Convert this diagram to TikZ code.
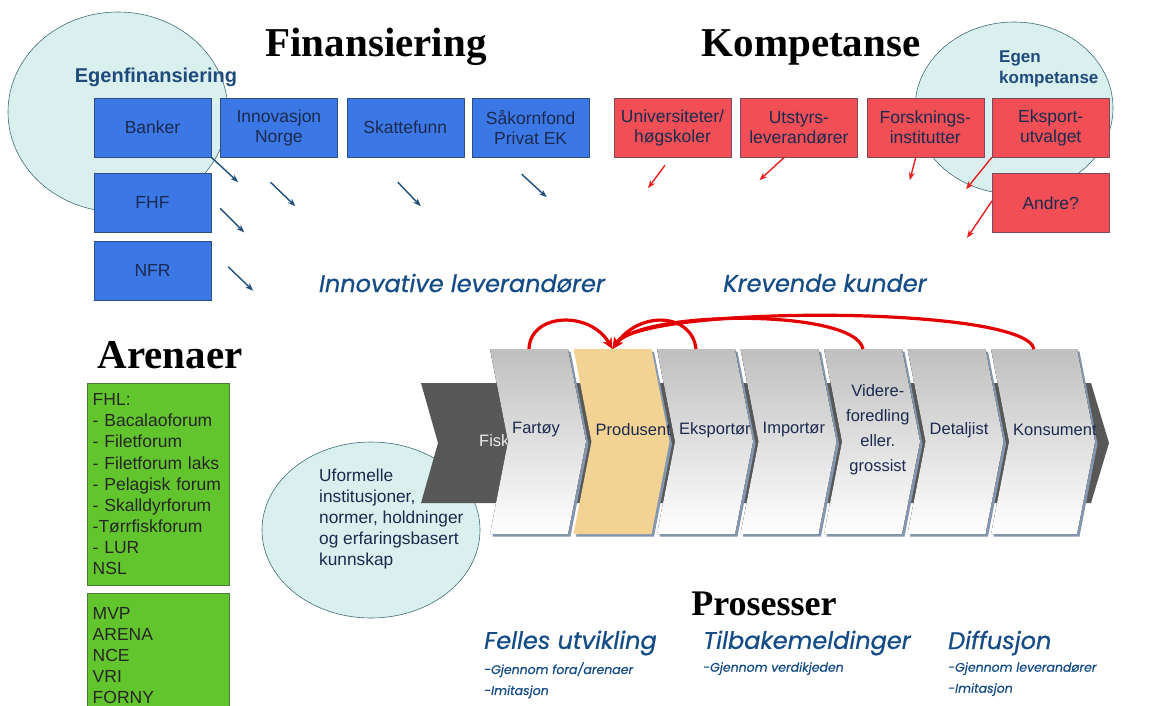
\documentclass[tikz,border=0pt]{standalone}
\usepackage{fontspec}
\setmainfont{Liberation Sans}
\newfontfamily\tittelfont{Liberation Serif}
\newfontfamily\gotfont[ItalicFeatures={FakeBold=0.7}]{Poppins}
\usetikzlibrary{arrows.meta, positioning, calc}

\definecolor{finbla}{HTML}{3B78E6}
\definecolor{finkant}{HTML}{2E4E86}
\definecolor{komprod}{HTML}{F14F55}
\definecolor{kompkant}{HTML}{7B4A5A}
\definecolor{tekstbla}{HTML}{1B2A4E}
\definecolor{skyfarge}{HTML}{DAF0EE}
\definecolor{skykant}{HTML}{3F6E78}
\definecolor{pilbla}{HTML}{1F4E79}
\definecolor{pilrod}{HTML}{E62020}
\definecolor{buerod}{HTML}{E30000}
\definecolor{kursivbla}{HTML}{154C86}
\definecolor{egenbla}{HTML}{1F4A7C}
\definecolor{gronn}{HTML}{63C52E}
\definecolor{gronnkant}{HTML}{4C7A3A}
\definecolor{mork}{HTML}{585858}
\definecolor{skygge}{HTML}{8497B0}
\definecolor{produsentgul}{HTML}{F3D393}

\tikzset{
  finboks/.style={draw=finkant, fill=finbla, text=tekstbla, minimum width=117pt, minimum height=59pt,
    align=center, inner sep=2pt, font=\fontsize{17.5}{20}\selectfont},
  kompboks/.style={finboks, draw=kompkant, fill=komprod},
  finpil/.style={-{Stealth[length=8pt,width=6pt]}, line width=1.4pt, color=pilbla},
  komppil/.style={-{Stealth[length=8pt,width=6pt]}, line width=1.4pt, color=pilrod},
  buepil/.style={-{Stealth[length=11pt,width=10pt]}, line width=3.2pt, color=buerod},
  tittel/.style={font=\tittelfont\bfseries\fontsize{41}{45}\selectfont},
  kursiv/.style={text=kursivbla, font=\gotfont\itshape\fontsize{24}{28}\selectfont},
  smakursiv/.style={text=kursivbla, align=left, font=\gotfont\itshape\fontsize{12.5}{21}\selectfont},
  arenaboks/.style={draw=gronnkant, fill=gronn, text=black!85, align=left, text width=131pt,
    inner xsep=5.5pt, inner ysep=8pt, anchor=north west, font=\fontsize{17.5}{21.1}\selectfont},
  sky/.style={fill=skyfarge, draw=skykant, line width=0.6pt},
  egentekst/.style={text=egenbla, font=\bfseries\fontsize{17}{21}\selectfont},
  lys/.style={top color=gray!50, bottom color=white},
  gul/.style={fill=produsentgul},
  kjedetekst/.style={text=tekstbla, align=center, inner sep=0pt, font=\fontsize{16.5}{25}\selectfont}
}

\begin{document}
\begin{tikzpicture}[x=1pt, y=-1pt]
    \useasboundingbox (0,0) rectangle (1158,706);

    % egen finansiering og kompetanse
    \draw[sky] (118,112) ellipse [x radius=110pt, y radius=100pt];
    \draw[sky] (1014,108) ellipse [x radius=99pt, y radius=86pt];
    \node[egentekst, font=\bfseries\fontsize{20}{24}\selectfont] (egenfin) at (156,77) {Egenfinansiering};
    \node[egentekst, align=left, anchor=north west, inner sep=0pt] (egenkomp) at (999,51) {Egen\\kompetanse};

    \node[tittel] (finansiering) at (376,47) {Finansiering};
    \node[tittel] (kompetanse) at (811,47) {Kompetanse};

    % finansiering
    \node[finboks] (banker) at (152.5,127.5) {Banker};
    \node[finboks, right=9pt of banker] (innovasjon) {Innovasjon\\Norge};
    \node[finboks, right=9pt of innovasjon] (skattefunn) {Skattefunn};
    \node[finboks, right=8pt of skattefunn] (sakornfond) {Såkornfond\\Privat EK};
    \node[finboks, below=16pt of banker] (fhf) {FHF};
    \node[finboks, below=8pt of fhf] (nfr) {NFR};

    \draw[finpil] (banker.south east) -- ++(27,25);
    \draw[finpil] ([shift={(-8.5,25)}]innovasjon.south) -- ++(25,24);
    \draw[finpil] ([shift={(-7.5,25)}]skattefunn.south) -- ++(23,24);
    \draw[finpil] ([shift={(-9,17)}]sakornfond.south) -- ++(25,23);
    \draw[finpil] ([shift={(9,5.5)}]fhf.east) -- ++(24,24);
    \draw[finpil] ([shift={(17,-3.5)}]nfr.east) -- ++(25,24);

    % kompetanse
    \node[kompboks] (universiteter) at (672.5,127.5) {Universiteter/\\høgskoler};
    \node[kompboks, right=9pt of universiteter] (utstyrs) {Utstyrs-\\leverandører};
    \node[kompboks, right=9pt of utstyrs] (forsknings) {Forsknings-\\institutter};
    \node[kompboks, right=8pt of forsknings] (eksport) {Eksport-\\utvalget};
    \node[kompboks, below=16pt of eksport] (andre) {Andre?};

    \draw[komppil] ([shift={(-7.5,8)}]universiteter.south) -- ++(-17,23);
    \draw[komppil] ([shift={(-14.5,0)}]utstyrs.south) -- ++(-25,23);
    \draw[komppil] ([shift={(-9.5,0)}]forsknings.south) -- ++(-6,23);
    \draw[komppil] (eksport.south west) -- ++(-26,32);
    \draw[komppil] ([shift={(0,-2)}]andre.west) -- ++(-25,37);

    \node[kursiv] (leverandorer) at (462,283) {Innovative leverandører};
    \node[kursiv] (kunder) at (825,283) {Krevende kunder};

    % arenaer
    \node[tittel] (arenaer) at (170,355) {Arenaer};
    \node[arenaboks, minimum height=202pt] (fhl) at (87,383)
      {FHL:\\- Bacalaoforum\\- Filetforum\\- Filetforum laks\\- Pelagisk forum\\- Skalldyrforum\\-Tørrfiskforum\\- LUR\\NSL};
    \node[arenaboks, minimum height=125pt] (mvp) at (87,593) {MVP\\ARENA\\NCE\\VRI\\FORNY};

    \draw[sky] (371,530) ellipse [x radius=109pt, y radius=88pt];

    % verdikjeden
    \fill[mork] (421,383) -- (510,383) -- (528,443) -- (510,503) -- (421,503) -- (438,443) -- cycle;
    \node[kjedetekst, text=gray!15, anchor=west] (fisk) at (479,441) {Fisk};
    \foreach \x/\b/\stil/\navn/\tekst in {490/78/lys/fartoy/Fartøy, 573.5/78/gul/produsent/Produsent,
        657/78/lys/eksportor/Eksportør, 740.5/78/lys/importor/Importør,
        824/78/lys/videre/{Videre-\\foredling\\eller.\\grossist}, 907.5/78/lys/detaljist/Detaljist,
        991/86/lys/konsument/Konsument}{
      \fill[mork] (\x+30,383) -- (\x+\b+14,383) -- (\x+\b+32,443) -- (\x+\b+14,503) -- (\x+30,503) -- cycle;
      \fill[skygge] (\x+2.5,351.5) -- (\x+\b+2.5,351.5) -- (\x+\b+20.5,444) -- (\x+\b+2.5,536.5)
        -- (\x+2.5,536.5) -- (\x+20.5,444) -- cycle;
      \fill[\stil] (\x,349) -- (\x+\b,349) -- (\x+\b+18,441.5) -- (\x+\b,534) -- (\x,534) -- (\x+18,441.5) -- cycle;
      \coordinate (\navn-topp) at (\x+\b/2,349);
      \node[kjedetekst, anchor=west] (\navn) at (\x+22,430) {\tekst};
    }

    \draw[buepil] (fartoy-topp) .. controls (530,313) and (590,310) .. (produsent-topp);
    \draw[buepil] (eksportor-topp) .. controls (692,313) and (640,310) .. (produsent-topp);
    \draw[buepil] (videre-topp) .. controls (855,308) and (640,310) .. (produsent-topp);
    \draw[buepil] (konsument-topp) .. controls (1025,305) and (640,305) .. (produsent-topp);

    \node[anchor=north west, inner sep=0pt, align=left, text=tekstbla, font=\fontsize{17.3}{21}\selectfont]
      (uformelle) at (319,469) {Uformelle\\institusjoner,\\normer, holdninger\\og erfaringsbasert\\kunnskap};

    % prosesser
    \node[tittel, font=\tittelfont\bfseries\fontsize{36}{40}\selectfont] (prosesser) at (764,604) {Prosesser};
    \node[kursiv, anchor=west, inner sep=0pt] (felles) at (484,643) {Felles utvikling};
    \node[kursiv, anchor=west, inner sep=0pt] (tilbake) at (703,643) {Tilbakemeldinger};
    \node[kursiv, anchor=west, inner sep=0pt] (diffusjon) at (948,643) {Diffusjon};
    \node[smakursiv, anchor=north west, inner sep=0pt] (fellesliste) at (484,662) {-Gjennom fora/arenaer\\-Imitasjon};
    \node[smakursiv, anchor=north west, inner sep=0pt] (tilbakeliste) at (703,662) {-Gjennom verdikjeden};
    \node[smakursiv, anchor=north west, inner sep=0pt] (diffusjonliste) at (948,662) {-Gjennom leverandører\\-Imitasjon};
\end{tikzpicture}
\end{document}
